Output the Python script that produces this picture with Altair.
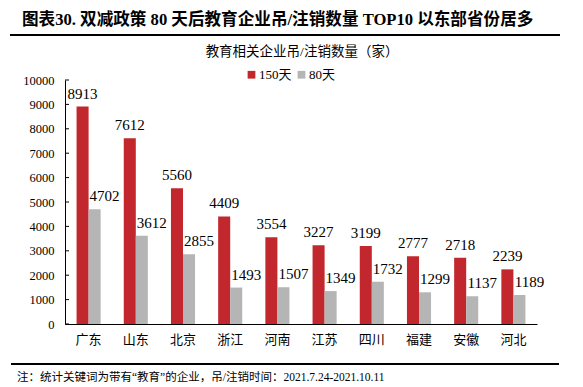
import altair as alt
import pandas as pd

provinces = ["广东", "山东", "北京", "浙江", "河南", "江苏", "四川", "福建", "安徽", "河北"]
series_names = ["150天", "80天"]
values_150 = [8913, 7612, 5560, 4409, 3554, 3227, 3199, 2777, 2718, 2239]
values_80 = [4702, 3612, 2855, 1493, 1507, 1349, 1732, 1299, 1137, 1189]
y_ticks = [0, 1000, 2000, 3000, 4000, 5000, 6000, 7000, 8000, 9000, 10000]
colors = ["#C1272D", "#B5B5B5"]

title_text = "图表30. 双减政策 80 天后教育企业吊/注销数量 TOP10 以东部省份居多"
subtitle_text = "教育相关企业吊/注销数量（家）"
note_text = "注：统计关键词为带有“教育”的企业，吊/注销时间：2021.7.24-2021.10.11"

SERIF = "'Liberation Serif', 'Noto Sans CJK SC'"

rows = []
for p, a, b in zip(provinces, values_150, values_80):
    rows.append({"province": p, "series": series_names[0], "value": a})
    rows.append({"province": p, "series": series_names[1], "value": b})
df = pd.DataFrame(rows)

W, H = 472, 244

x_axis = alt.Axis(title=None, labelAngle=0, ticks=False, domainColor="#000",
                  labelFont="Noto Sans CJK SC", labelFontSize=13,
                  labelColor="#000", labelPadding=9)
y_axis = alt.Axis(title=None, values=y_ticks, grid=False, ticks=False,
                  format="d", labelOverlap=False,
                  domainColor="#000", labelFont=SERIF, labelFontSize=12.5,
                  labelColor="#000", labelPadding=11)
y_scale = alt.Scale(domain=[0, 10000], nice=False)
x_scale = alt.Scale(paddingInner=0.49, paddingOuter=0.245)

x_enc = alt.X("province:N", sort=provinces, scale=x_scale, axis=x_axis)
y_enc = alt.Y("value:Q", scale=y_scale, axis=y_axis)
xoff = alt.XOffset("series:N", sort=series_names, scale=alt.Scale(paddingInner=0, paddingOuter=0))

bars = alt.Chart(df).mark_bar().encode(
    x=x_enc, y=y_enc, xOffset=xoff,
    color=alt.Color("series:N", sort=series_names,
                    scale=alt.Scale(domain=series_names, range=colors),
                    legend=alt.Legend(title=None, orient="none", legendX=180, legendY=-12,
                                      direction="horizontal", symbolType="square",
                                      symbolSize=60, symbolStrokeWidth=0,
                                      labelFont=SERIF, labelFontSize=13, labelColor="#000",
                                      columnPadding=3, labelOffset=1))
)

lab_red = alt.Chart(df).transform_filter(alt.datum.series == series_names[0]).mark_text(
    font=SERIF, fontSize=15, dy=-8, baseline="alphabetic", color="#000"
).encode(x=x_enc, y=y_enc, xOffset=xoff, text="value:Q")

lab_gray = alt.Chart(df).transform_filter(alt.datum.series == series_names[1]).mark_text(
    font=SERIF, fontSize=15, dy=-8, dx=10, baseline="alphabetic", color="#000"
).encode(x=x_enc, y=y_enc, xOffset=xoff, text="value:Q")

tick_df = pd.DataFrame({"t": y_ticks})
ticks = alt.Chart(tick_df).mark_rule(color="#000", strokeWidth=1, clip=False).encode(
    y=alt.Y("t:Q", scale=y_scale, axis=y_axis), x=alt.value(0), x2=alt.value(4))

title = alt.Chart(pd.DataFrame({"t": [title_text]})).mark_text(
    font=SERIF, fontSize=16.6, fontWeight="bold", align="left", baseline="middle", color="#000"
).encode(x=alt.value(-43), y=alt.value(-60), text="t:N")

title_line = alt.Chart(pd.DataFrame({"t": ["a"]})).mark_rule(
    color="#000", strokeWidth=2, clip=False).encode(
    x=alt.value(-55), x2=alt.value(495), y=alt.value(-45))

title_line_b = alt.Chart(pd.DataFrame({"t": ["a"]})).mark_tick(
    orient="horizontal", thickness=2, color="#000", opacity=1, clip=False).encode(
    x=alt.value(220), y=alt.value(-45), size=alt.value(550))

subtitle = alt.Chart(pd.DataFrame({"t": [subtitle_text]})).mark_text(
    font=SERIF, fontSize=13.5, align="center", baseline="middle", color="#000"
).encode(x=alt.value(237), y=alt.value(-28), text="t:N")

bottom_line = alt.Chart(pd.DataFrame({"t": ["b"]})).mark_rule(
    color="#000", strokeWidth=2, clip=False).encode(
    x=alt.value(-54), x2=alt.value(494), y=alt.value(284))

bottom_line_b = alt.Chart(pd.DataFrame({"t": ["b"]})).mark_tick(
    orient="horizontal", thickness=2, color="#000", opacity=1, clip=False).encode(
    x=alt.value(220), y=alt.value(284), size=alt.value(548))

note = alt.Chart(pd.DataFrame({"t": [note_text]})).mark_text(
    font=SERIF, fontSize=11.5, align="left", baseline="middle", color="#000"
).encode(x=alt.value(-48), y=alt.value(298), text="t:N")

chart = alt.layer(bars, lab_red, lab_gray, ticks, title, title_line, title_line_b,
                  subtitle, bottom_line, bottom_line_b, note).properties(
    width=W, height=H,
    autosize=alt.AutoSizeParams(type="none"),
    padding={"left": 57, "top": 72, "right": 38, "bottom": 62},
).configure_view(stroke=None)

chart.save("out.html", embed_options={"renderer": "svg", "actions": False})
